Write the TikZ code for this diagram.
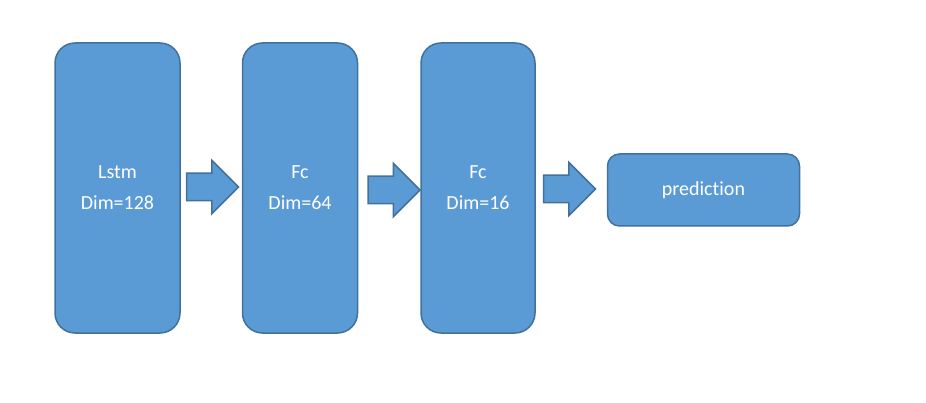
\documentclass[tikz,border=0pt]{standalone}
\usepackage{fontspec}
\setmainfont{Carlito}[Ligatures=NoCommon]
\usetikzlibrary{positioning,shapes.arrows}
\definecolor{boxfill}{HTML}{5B9BD5}
\definecolor{boxline}{HTML}{41719C}

\begin{document}
\begin{tikzpicture}[x=1pt,y=1pt,
  layer/.style={draw=boxline, fill=boxfill, line width=1.5pt, rounded corners=20pt,
    text=white, align=center, font=\fontsize{20}{31}\selectfont,
    minimum height=290pt, inner sep=0pt},
  blockarrow/.style={single arrow, draw=boxline, fill=boxfill, line width=1.5pt,
    single arrow tip angle=90, single arrow head extend=13pt, anchor=tail,
    minimum height=52pt, inner xsep=0pt, inner ysep=13pt}]
  \useasboundingbox (0,0) rectangle (926,402);
  \node [layer, minimum width=125pt] (lstm) at (117.5,214) {Lstm\\Dim=128};
  \node [layer, minimum width=115pt] (fc_{64}) [right=61pt of lstm] {Fc\\Dim=64};
  \node [layer, minimum width=114pt] (fc_{16}) [right=62pt of fc_{64}] {Fc\\Dim=16};
  \node [layer, minimum width=192pt, minimum height=72pt, rounded corners=12pt]
    (pred) [right=71pt of fc_{16}, yshift=-2pt] {prediction};
  \node [blockarrow] (a_1) at ([xshift=5pt, yshift=1pt]lstm.east) {};
  \node [blockarrow] (a_2) at ([xshift=9pt, yshift=-2pt]fc_{64}.east) {};
  \node [blockarrow] (a_3) at ([xshift=7pt, yshift=-1pt]fc_{16}.east) {};
\end{tikzpicture}
\end{document}
